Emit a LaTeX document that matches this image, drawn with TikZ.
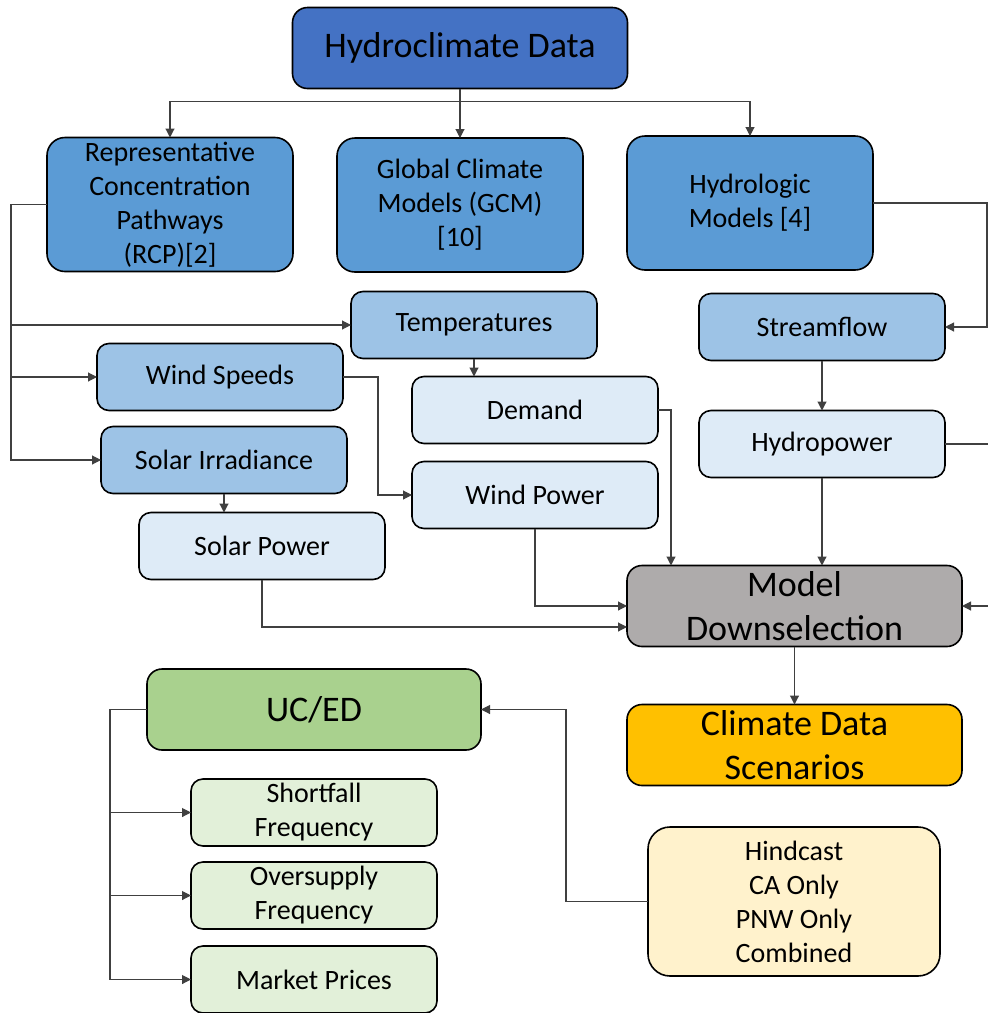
\documentclass[tikz,border=0pt]{standalone}
\usepackage{fontspec}
\setmainfont{Carlito}
\usetikzlibrary{arrows.meta}
\definecolor{hdblue}{HTML}{4472C4}
\definecolor{midblue}{HTML}{5B9BD5}
\definecolor{lightblue}{HTML}{9DC3E6}
\definecolor{paleblue}{HTML}{DEEBF7}
\definecolor{selgray}{HTML}{AEABAB}
\definecolor{scenorange}{HTML}{FFC000}
\definecolor{ucgreen}{HTML}{A9D18E}
\definecolor{palegreen}{HTML}{E2F0D9}
\definecolor{paleyellow}{HTML}{FFF2CC}
\begin{document}
\begin{tikzpicture}[x=1pt, y=-1pt,
    box/.style={draw=black, line width=1.6pt, rounded corners=12pt, align=center,
        inner sep=0pt, outer sep=0pt, font=\fontsize{28}{34}\selectfont},
    bigbox/.style={box, rounded corners=15pt, font=\fontsize{36}{44}\selectfont,
        minimum width=335pt, minimum height=81pt},
    smallbox/.style={box, minimum width=246pt, minimum height=67pt},
    tallbox/.style={box, rounded corners=18pt, minimum width=246pt, minimum height=134pt},
    arr/.style={draw=black!75, line width=1.1pt, -{Triangle[length=9pt, width=9pt]}},
    ]
    \useasboundingbox (0,0) rectangle (988,1013);
    \clip (0,0) rectangle (988,1013);
    % top row
    \node[bigbox, fill=hdblue] (hd) at (460,48) {Hydroclimate Data};
    \node[tallbox, fill=midblue] (rcp) at (170,204.5) {Representative\\Concentration\\Pathways\\(RCP)[2]};
    \node[tallbox, fill=midblue] (gcm) at (460,205) {Global Climate\\Models (GCM)\\{[10]}};
    \node[tallbox, fill=midblue] (hyd) at (750,203) {Hydrologic\\Models [4]};
    % climate variables
    \node[smallbox, fill=lightblue] (temp) at (474,325) {Temperatures};
    \node[smallbox, fill=lightblue] (wspd) at (220,377) {Wind Speeds};
    \node[smallbox, fill=lightblue] (sirr) at (224,460) {Solar Irradiance};
    \node[smallbox, fill=lightblue] (sflow) at (822,327) {Streamflow};
    % power and demand
    \node[smallbox, fill=paleblue] (dem) at (535,410) {Demand};
    \node[smallbox, fill=paleblue] (wpow) at (535,495) {Wind Power};
    \node[smallbox, fill=paleblue] (spow) at (262,546) {Solar Power};
    \node[smallbox, fill=paleblue] (hpow) at (822,444) {Hydropower};
    % selection
    \node[bigbox, fill=selgray] (mds) at (794.5,606) {Model\\Downselection};
    \node[bigbox, fill=scenorange] (cds) at (794.5,745) {Climate Data\\Scenarios};
    \node[bigbox, fill=ucgreen, minimum width=334pt] (uced) at (314,709.5) {UC/ED};
    \node[box, rounded corners=22pt, fill=paleyellow, minimum width=292pt, minimum height=149pt] (hind) at (794,901.5) {Hindcast\\CA Only\\PNW Only\\Combined};
    % outputs
    \node[smallbox, fill=palegreen] (short) at (314,812.5) {Shortfall\\Frequency};
    \node[smallbox, fill=palegreen] (over) at (314,895.5) {Oversupply\\Frequency};
    \node[smallbox, fill=palegreen] (mkt) at (314,979.5) {Market Prices};
    % connectors
    \coordinate (hdsplit) at ([yshift=-13pt]hd.south);
    \draw[arr] (hd.south) -- (hdsplit) -| (rcp.north);
    \draw[arr] (hdsplit) -| (gcm.north);
    \draw[arr] (hdsplit) -| (hyd.north);
    \draw[arr] (rcp.west) -- ++(-36,0) |- (temp.west);
    \draw[arr] (rcp.west) -- ++(-36,0) |- (wspd.west);
    \draw[arr] (rcp.west) -- ++(-36,0) |- (sirr.west);
    \draw[arr] (hyd.east) -- ++(114,0) |- (sflow.east);
    \draw[arr] (temp.south) -- (temp.south |- dem.north);
    \draw[arr] (wspd.east) -- ++(35,0) |- (wpow.west);
    \draw[arr] (sirr.south) -- (sirr.south |- spow.north);
    \draw[arr] (sflow.south) -- (hpow.north);
    \draw[arr] (dem.east) -- ++(13,0) coordinate (dm) -- (dm |- mds.north);
    \draw[arr] (hpow.south) -- (hpow.south |- mds.north);
    \draw[arr] (wpow.south) |- (mds.west);
    \draw[arr] (spow.south) |- ([yshift=-21pt]mds.west);
    \draw[arr] (hpow.east) -- ++(60,0) |- (mds.east);
    \draw[arr] (mds.south) -- (cds.north);
    \draw[arr] (hind.west) -- ++(-82,0) |- (uced.east);
    \draw[arr] (uced.west) -- ++(-37,0) |- (short.west);
    \draw[arr] (uced.west) -- ++(-37,0) |- (over.west);
    \draw[arr] (uced.west) -- ++(-37,0) |- (mkt.west);
\end{tikzpicture}
\end{document}
